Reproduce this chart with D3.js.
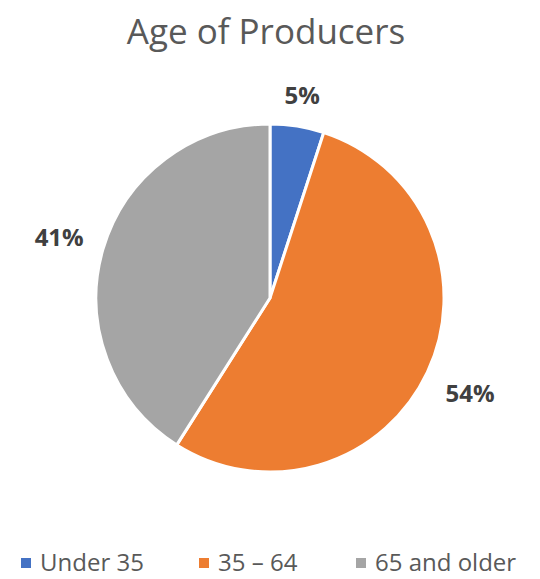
<!DOCTYPE html>
<html>
<head>
<meta charset="utf-8">
<script src="https://cdn.jsdelivr.net/npm/d3@7"></script>
<style>
  html, body { margin: 0; padding: 0; background: #fff; }
  svg { display: block; }
</style>
</head>
<body>
<svg id="chart" width="540" height="579"></svg>
<script>
// Share of producers by age group (percent)
const categories = ["Under 35", "35 \u2013 64", "65 and older"];
const values = [5, 54, 41];
const colors = ["#4472C4", "#ED7D31", "#A5A5A5"];
const title = "Age of Producers";

const width = 540, height = 579;
const cx = 270, cy = 298, radius = 174;
const labelGap = 20;
const font = "'Open Sans', 'Liberation Sans', sans-serif";

const svg = d3.select("#chart");

svg.append("text")
  .attr("x", width / 2 - 4)
  .attr("y", 44)
  .attr("text-anchor", "middle")
  .attr("font-family", font)
  .attr("font-size", 35)
  .attr("fill", "#595959")
  .text(title);

const pie = d3.pie().sort(null).value(d => d)(values);
const arc = d3.arc().innerRadius(0).outerRadius(radius);

const g = svg.append("g").attr("transform", `translate(${cx},${cy})`);

g.selectAll("path.slice")
  .data(pie)
  .join("path")
  .attr("class", "slice")
  .attr("d", arc)
  .attr("fill", (d, i) => colors[i])
  .attr("stroke", "#fff")
  .attr("stroke-width", 3)
  .attr("stroke-linejoin", "round");

// Value labels placed just outside each slice, offset by the label's own extent
const labels = g.selectAll("text.val")
  .data(pie)
  .join("text")
  .attr("class", "val")
  .attr("text-anchor", "middle")
  .attr("dominant-baseline", "central")
  .attr("font-family", font)
  .attr("font-weight", "bold")
  .attr("font-size", 24)
  .attr("fill", "#404040")
  .text(d => d.value + "%");

labels.each(function(d) {
  const bb = this.getBBox();
  const a = (d.startAngle + d.endAngle) / 2;
  const s = Math.sin(a), c = -Math.cos(a);
  const h = bb.height * 0.7;
  const ext = Math.min(
    Math.abs(s) > 1e-6 ? (bb.width / 2) / Math.abs(s) : Infinity,
    Math.abs(c) > 1e-6 ? (h / 2) / Math.abs(c) : Infinity
  );
  const r = radius + labelGap + ext;
  d3.select(this).attr("x", r * s).attr("y", r * c);
});

// Legend
const legendX = [21, 199, 356];
const legend = svg.append("g");
categories.forEach((name, i) => {
  legend.append("rect")
    .attr("x", legendX[i])
    .attr("y", 558)
    .attr("width", 10)
    .attr("height", 10)
    .attr("fill", colors[i]);
  legend.append("text")
    .attr("x", legendX[i] + 19)
    .attr("y", 571)
    .attr("font-family", font)
    .attr("font-size", 24)
    .attr("fill", "#595959")
    .text(name);
});
</script>
</body>
</html>
